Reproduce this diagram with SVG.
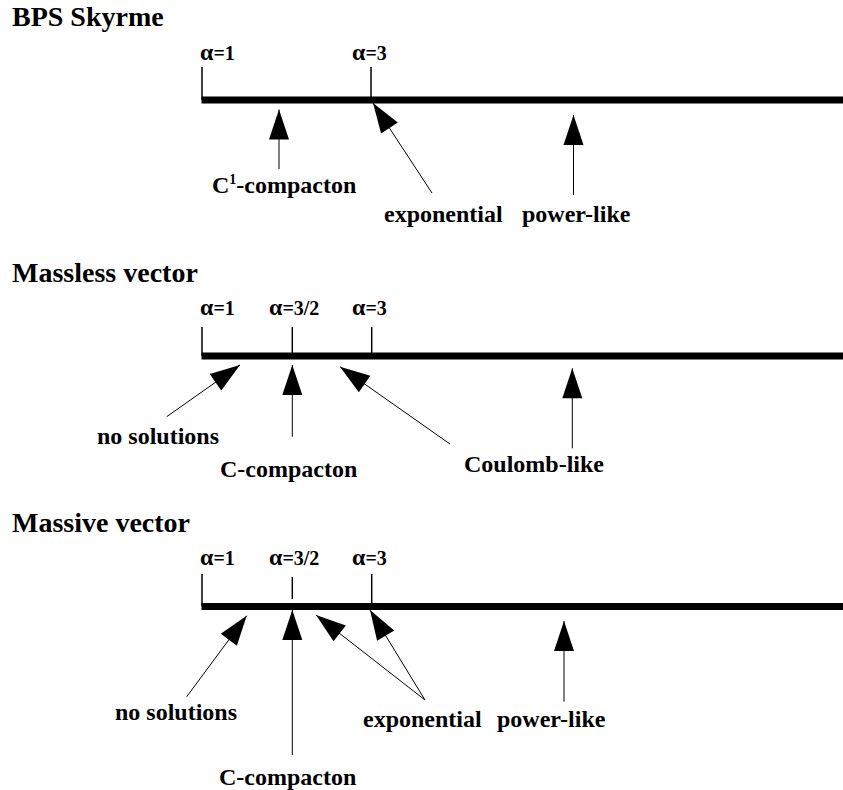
<svg xmlns="http://www.w3.org/2000/svg" width="843" height="790" viewBox="0 0 843 790">
<style>
text{font-family:"Liberation Serif","Times New Roman",serif;font-weight:bold;fill:#000}
.title{font-size:28px}
.tick{font-size:20px}
.a{font-size:24px}
.lbl{font-size:24px}
.axis{stroke:#000;stroke-width:7;fill:none}
.tk{stroke:#000;stroke-width:1.5;fill:none}
.arr{stroke:#000;stroke-width:1;fill:none;marker-end:url(#ah)}
</style>
<defs>
<marker id="ah" markerUnits="userSpaceOnUse" markerWidth="30" markerHeight="20" refX="30" refY="10" orient="auto" overflow="visible">
<path d="M0,0 L30,10 L0,20 z" fill="#000"/>
</marker>
</defs>
<rect width="843" height="790" fill="#fff"/>

<g id="bps">
<text class="title" x="12" y="26">BPS Skyrme</text>
<g id="bps-axis">
<line class="axis" x1="201.5" y1="100" x2="843" y2="100"/>
<line class="tk" x1="202" y1="67" x2="202" y2="100"/>
<line class="tk" x1="371" y1="67" x2="371" y2="100"/>
<text class="tick" x="200" y="60"><tspan class="a">α</tspan>=1</text>
<text class="tick" x="352" y="60"><tspan class="a">α</tspan>=3</text>
</g>
<g id="bps-c1"><text class="lbl" x="212" y="193">C<tspan font-size="14" dy="-9">1</tspan><tspan dy="9">-compacton</tspan></text></g>
<g id="bps-exp"><text class="lbl" x="384" y="222">exponential</text></g>
<g id="bps-pow"><text class="lbl" x="522" y="222">power-like</text></g>
</g>

<g id="massless">
<text class="title" x="12" y="282">Massless vector</text>
<g id="ml-axis">
<line class="axis" x1="201.5" y1="356" x2="843" y2="356"/>
<line class="tk" x1="202" y1="327" x2="202" y2="356"/>
<line class="tk" x1="292.3" y1="327" x2="292.3" y2="356"/>
<line class="tk" x1="371.7" y1="327" x2="371.7" y2="356"/>
<text class="tick" x="200" y="315"><tspan class="a">α</tspan>=1</text>
<text class="tick" x="269" y="315"><tspan class="a">α</tspan>=3/2</text>
<text class="tick" x="352" y="315"><tspan class="a">α</tspan>=3</text>
</g>
<g id="ml-nosol"><text class="lbl" x="97" y="444">no solutions</text></g>
<g id="ml-ccomp"><text class="lbl" x="220" y="477">C-compacton</text></g>
<g id="ml-coul"><text class="lbl" x="464" y="472">Coulomb-like</text></g>
</g>

<g id="massive">
<text class="title" x="12" y="532">Massive vector</text>
<g id="mv-axis">
<line class="axis" x1="201.5" y1="606.5" x2="843" y2="606.5"/>
<line class="tk" x1="202" y1="574" x2="202" y2="606"/>
<line class="tk" x1="292.3" y1="577" x2="292.3" y2="599"/>
<line class="tk" x1="371.7" y1="574" x2="371.7" y2="606"/>
<text class="tick" x="200" y="565"><tspan class="a">α</tspan>=1</text>
<text class="tick" x="269" y="565"><tspan class="a">α</tspan>=3/2</text>
<text class="tick" x="352" y="565"><tspan class="a">α</tspan>=3</text>
</g>
<g id="mv-nosol"><text class="lbl" x="115" y="720">no solutions</text></g>
<g id="mv-ccomp"><text class="lbl" x="219" y="785">C-compacton</text></g>
<g id="mv-exp"><text class="lbl" x="363" y="727">exponential</text></g>
<g id="mv-pow"><text class="lbl" x="497" y="727">power-like</text></g>
</g>

<g id="connectors">
<line class="arr" x1="279" y1="169" x2="279" y2="109.5"/>
<line class="arr" x1="432" y1="193" x2="373" y2="103"/>
<line class="arr" x1="573.5" y1="195" x2="573.5" y2="115"/>
<line class="arr" x1="166.7" y1="416.7" x2="240" y2="365"/>
<line class="arr" x1="292.3" y1="436.7" x2="292.3" y2="365"/>
<line class="arr" x1="450" y1="444" x2="340" y2="366.7"/>
<line class="arr" x1="572.3" y1="448.3" x2="572.3" y2="368.3"/>
<line class="arr" x1="186.7" y1="696.7" x2="246.7" y2="615.7"/>
<line class="arr" x1="292.3" y1="755" x2="292.3" y2="610"/>
<line class="arr" x1="425" y1="700" x2="316" y2="615"/>
<line class="arr" x1="425" y1="700" x2="370" y2="610"/>
<line class="arr" x1="564" y1="701.7" x2="564" y2="621"/>
</g>
</svg>
